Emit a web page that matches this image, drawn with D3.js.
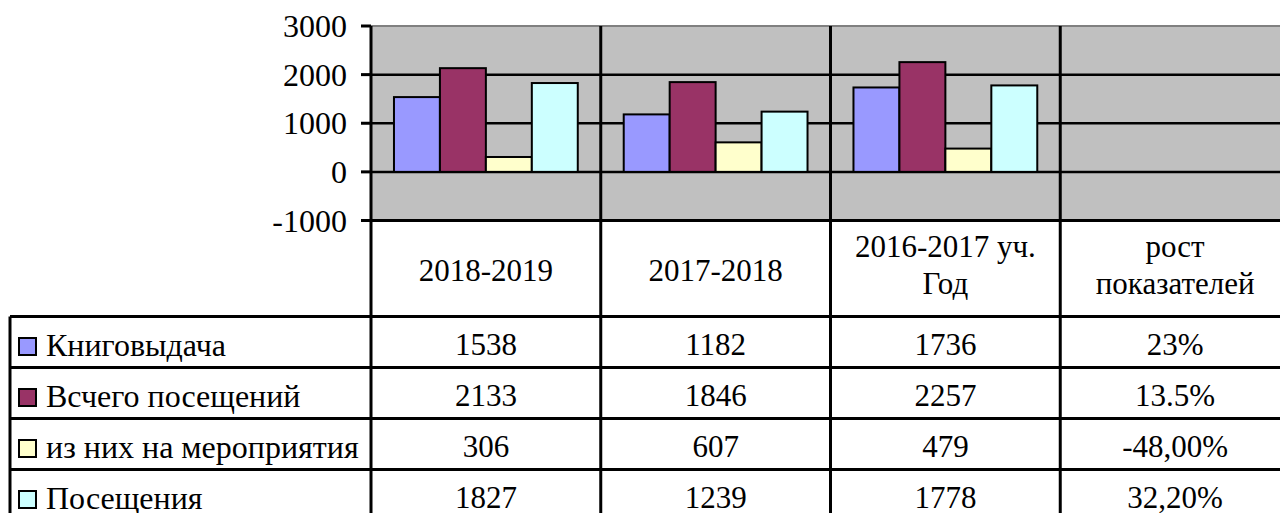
<!DOCTYPE html>
<html lang="ru">
  <head>
    <meta charset="UTF-8" />
    <title>Показатели библиотеки</title>
    <script src="https://d3js.org/d3.v7.min.js"></script>
    <style>
      body {
        margin: 0;
        background: #ffffff;
        overflow: hidden;
      }
    </style>
  </head>
  <body>
    <div id="chart"></div>
    <script>
      // данные
      const categories = [
        ["2018-2019"],
        ["2017-2018"],
        ["2016-2017 уч.", "Год"],
        ["рост", "показателей"],
      ];
      const seriesNames = [
        "Книговыдача",
        "Всчего посещений",
        "из них на мероприятия",
        "Посещения",
      ];
      const kniga = [1538, 1182, 1736];
      const vsego = [2133, 1846, 2257];
      const meropr = [306, 607, 479];
      const posesch = [1827, 1239, 1778];
      const growth = ["23%", "13.5%", "-48,00%", "32,20%"];
      const yTicks = [3000, 2000, 1000, 0, -1000];
      const colors = ["#9999ff", "#993366", "#ffffcc", "#ccffff"];

      const seriesValues = [kniga, vsego, meropr, posesch];

      const width = 1280;
      const height = 513;
      const plotLeft = 371;
      const plotRight = 1290;
      const plotTop = 26;
      const plotBottom = 220.5;
      const tableLeft = 10;
      const headerBottom = 316.5;
      const rowH = 51;
      const serif = '"Liberation Serif", serif';

      const svg = d3
        .select("#chart")
        .append("svg")
        .attr("width", width)
        .attr("height", height);

      // все подписи одним шрифтом
      function label(sel, size) {
        return sel
          .style("font-family", serif)
          .style("font-size", size + "px")
          .style("fill", "#000");
      }

      const catKeys = categories.map((c) => c.join(" "));

      const x = d3
        .scaleBand()
        .domain(catKeys)
        .range([plotLeft, plotRight])
        .paddingInner(0)
        .paddingOuter(0);

      const xInner = d3
        .scaleBand()
        .domain(seriesNames)
        .range([0, x.bandwidth()])
        .paddingInner(0)
        .paddingOuter(0.5);

      const y = d3
        .scaleLinear()
        .domain([-1000, 3000])
        .range([plotBottom, plotTop]);

      // фон области построения
      svg
        .append("rect")
        .attr("x", plotLeft)
        .attr("y", plotTop)
        .attr("width", plotRight - plotLeft)
        .attr("height", plotBottom - plotTop)
        .attr("fill", "#c0c0c0");

      svg
        .append("line")
        .attr("x1", plotLeft)
        .attr("x2", plotRight)
        .attr("y1", plotTop)
        .attr("y2", plotTop)
        .attr("stroke", "#808080")
        .attr("stroke-width", 2);

      // горизонтальные линии сетки
      svg
        .selectAll(".grid")
        .data(yTicks.filter((d) => d !== 3000))
        .enter()
        .append("line")
        .attr("class", "grid")
        .attr("x1", plotLeft)
        .attr("x2", plotRight)
        .attr("y1", (d) => y(d))
        .attr("y2", (d) => y(d))
        .attr("stroke", "#000")
        .attr("stroke-width", (d) => (d === -1000 ? 3 : 2.5));

      // столбцы
      const bars = [];
      seriesValues.forEach((vals, si) => {
        vals.forEach((v, ci) => {
          bars.push({ s: seriesNames[si], si, c: catKeys[ci], v });
        });
      });

      svg
        .selectAll(".bar")
        .data(bars)
        .enter()
        .append("rect")
        .attr("class", "bar")
        .attr("x", (d) => x(d.c) + xInner(d.s))
        .attr("y", (d) => y(Math.max(0, d.v)))
        .attr("width", xInner.bandwidth())
        .attr("height", (d) => Math.abs(y(d.v) - y(0)))
        .attr("fill", (d) => colors[d.si])
        .attr("stroke", "#000")
        .attr("stroke-width", 2);

      // вертикальные линии категорий (через график и таблицу)
      const tableBottom = headerBottom + rowH * seriesNames.length;
      svg
        .selectAll(".vline")
        .data(catKeys.slice(1))
        .enter()
        .append("line")
        .attr("class", "vline")
        .attr("x1", (d) => x(d))
        .attr("x2", (d) => x(d))
        .attr("y1", plotTop)
        .attr("y2", tableBottom)
        .attr("stroke", "#000")
        .attr("stroke-width", 3);

      // ось Y
      svg
        .append("line")
        .attr("x1", plotLeft)
        .attr("x2", plotLeft)
        .attr("y1", plotTop)
        .attr("y2", tableBottom)
        .attr("stroke", "#000")
        .attr("stroke-width", 3);

      svg
        .selectAll(".tick")
        .data(yTicks)
        .enter()
        .append("line")
        .attr("class", "tick")
        .attr("x1", plotLeft - 10)
        .attr("x2", plotLeft)
        .attr("y1", (d) => y(d))
        .attr("y2", (d) => y(d))
        .attr("stroke", "#000")
        .attr("stroke-width", 3);

      svg
        .selectAll(".axis-label")
        .data(yTicks)
        .enter()
        .append("text")
        .attr("class", "axis-label")
        .attr("x", plotLeft - 24)
        .attr("y", (d) => y(d))
        .attr("dy", "0.35em")
        .attr("text-anchor", "end")
        .call(label, 32)
        .text((d) => d);

      // заголовки таблицы
      const header = svg
        .selectAll(".head")
        .data(categories)
        .enter()
        .append("text")
        .attr("class", "head")
        .attr("text-anchor", "middle")
        .attr("x", (d, i) => x(catKeys[i]) + x.bandwidth() / 2)
        .call(label, 31);

      header.each(function (lines) {
        const t = d3.select(this);
        const mid = (plotBottom + headerBottom) / 2 + (lines.length > 1 ? -3.5 : 2);
        const lh = 37;
        lines.forEach((ln, k) => {
          t.append("tspan")
            .attr("x", t.attr("x"))
            .attr("y", mid + (k - (lines.length - 1) / 2) * lh)
            .attr("dy", "0.35em")
            .text(ln);
        });
      });

      // строки таблицы
      const rowY = (i) => headerBottom + rowH * i;

      svg
        .selectAll(".hline")
        .data(d3.range(seriesNames.length + 1))
        .enter()
        .append("line")
        .attr("class", "hline")
        .attr("x1", tableLeft)
        .attr("x2", plotRight)
        .attr("y1", (d) => rowY(d))
        .attr("y2", (d) => rowY(d))
        .attr("stroke", "#000")
        .attr("stroke-width", 3);

      svg
        .append("line")
        .attr("x1", tableLeft)
        .attr("x2", tableLeft)
        .attr("y1", headerBottom)
        .attr("y2", tableBottom)
        .attr("stroke", "#000")
        .attr("stroke-width", 3);

      seriesNames.forEach((name, i) => {
        const cy = rowY(i) + 28;
        svg
          .append("rect")
          .attr("x", 19)
          .attr("y", rowY(i) + 21.5)
          .attr("width", 17)
          .attr("height", 17)
          .attr("fill", colors[i])
          .attr("stroke", "#000")
          .attr("stroke-width", 2);
        svg
          .append("text")
          .attr("x", 46)
          .attr("y", cy)
          .attr("dy", "0.35em")
          .call(label, 32)
          .text(name);

        const cells = seriesValues[i].map(String).concat([growth[i]]);
        cells.forEach((txt, ci) => {
          svg
            .append("text")
            .attr("text-anchor", "middle")
            .attr("x", x(catKeys[ci]) + x.bandwidth() / 2)
            .attr("y", cy)
            .attr("dy", "0.35em")
            .call(label, 31)
            .text(txt);
        });
      });
    </script>
  </body>
</html>
